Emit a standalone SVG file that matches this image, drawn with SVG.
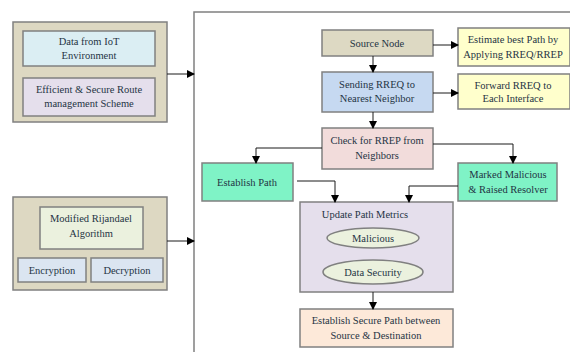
<svg xmlns="http://www.w3.org/2000/svg" width="570" height="352" viewBox="0 0 570 352">
<defs>
<style>
.b{stroke:#808080;stroke-width:1.5}
.t{font-family:"Liberation Serif","Times New Roman",serif;font-size:10.5px;fill:#1f3444;text-anchor:middle}
.c{fill:none;stroke:#1a1a1a;stroke-width:1}
</style>
<marker id="ah" markerWidth="8" markerHeight="8" refX="7" refY="4" orient="auto" markerUnits="userSpaceOnUse">
<path d="M0,0 L8,4 L0,8 Z" fill="#000"/>
</marker>
</defs>
<rect width="570" height="352" fill="#fff"/>
<g id="frame"><rect x="194" y="12" width="400" height="360" fill="none" class="b"/></g>

<g id="left1">
<rect x="13" y="22" width="154" height="100" fill="#ddd8c2" class="b"/>
<rect x="23" y="31" width="132" height="35" fill="#dbeef3" class="b"/>
<text class="t" x="89" y="45">Data from IoT</text>
<text class="t" x="89" y="59">Environment</text>
<rect x="23" y="78" width="132" height="38" fill="#e5dfec" class="b"/>
<text class="t" x="89" y="93">Efficient &amp; Secure Route</text>
<text class="t" x="89" y="107">management Scheme</text>
</g>

<g id="left2">
<rect x="13" y="197" width="154" height="93" fill="#ddd8c2" class="b"/>
<rect x="40" y="207" width="103" height="42" fill="#ebf1de" class="b"/>
<text class="t" x="91" y="222">Modified Rijandael</text>
<text class="t" x="91" y="237">Algorithm</text>
<rect x="18" y="258" width="68" height="24" fill="#dbe5f1" class="b"/>
<text class="t" x="52" y="274">Encryption</text>
<rect x="91" y="258" width="72" height="24" fill="#dbe5f1" class="b"/>
<text class="t" x="127" y="274">Decryption</text>
</g>

<g id="source">
<rect x="322" y="30" width="111" height="26" fill="#ddd9c3" class="b"/>
<text class="t" x="377" y="47">Source Node</text>
</g>
<g id="estimate">
<rect x="458" y="28" width="112" height="38" fill="#ffffcc" class="b"/>
<text class="t" x="513" y="43">Estimate best Path by</text>
<text class="t" x="513" y="58">Applying RREQ/RREP</text>
</g>
<g id="sending">
<rect x="322" y="72" width="111" height="40" fill="#c6d9f1" class="b"/>
<text class="t" x="377" y="88">Sending RREQ to</text>
<text class="t" x="377" y="102">Nearest Neighbor</text>
</g>
<g id="forward">
<rect x="458" y="74" width="112" height="35" fill="#ffffcc" class="b"/>
<text class="t" x="513" y="89">Forward RREQ to</text>
<text class="t" x="513" y="102">Each Interface</text>
</g>
<g id="check">
<rect x="322" y="128" width="111" height="41" fill="#f2dcdb" class="b"/>
<text class="t" x="377" y="144">Check for RREP from</text>
<text class="t" x="377" y="159">Neighbors</text>
</g>
<g id="establish">
<rect x="202" y="163" width="91" height="38" fill="#7ff3c6" class="b"/>
<text class="t" x="247" y="186">Establish Path</text>
</g>
<g id="marked">
<rect x="458" y="163" width="99" height="38" fill="#7ff3c6" class="b"/>
<text class="t" x="508" y="178">Marked Malicious</text>
<text class="t" x="508" y="193">&amp; Raised Resolver</text>
</g>
<g id="update">
<rect x="300" y="202" width="153" height="90" fill="#e5dfec" class="b"/>
<text class="t" x="365" y="218">Update Path Metrics</text>
<ellipse cx="373" cy="238" rx="46" ry="10" fill="#ebf1de" class="b"/>
<text class="t" x="373" y="242">Malicious</text>
<ellipse cx="373" cy="272" rx="50" ry="12" fill="#ebf1de" class="b"/>
<text class="t" x="373" y="276">Data Security</text>
</g>
<g id="final">
<rect x="300" y="309" width="153" height="38" fill="#fde9d9" class="b"/>
<text class="t" x="376" y="324">Establish Secure Path between</text>
<text class="t" x="376" y="339">Source &amp; Destination</text>
</g>

<g id="connectors">
<path class="c" marker-end="url(#ah)" d="M167,74 H194"/>
<path class="c" marker-end="url(#ah)" d="M167,241 H194"/>
<path class="c" marker-end="url(#ah)" d="M433,45 H458"/>
<path class="c" marker-end="url(#ah)" d="M433,93 H458"/>
<path class="c" marker-end="url(#ah)" d="M373,56 V72"/>
<path class="c" marker-end="url(#ah)" d="M373,112 V128"/>
<path class="c" marker-end="url(#ah)" d="M322,148 H256 V163"/>
<path class="c" marker-end="url(#ah)" d="M433,144 H513 V163"/>
<path class="c" marker-end="url(#ah)" d="M297,181 H335 V202"/>
<path class="c" marker-end="url(#ah)" d="M458,186 H409 V202"/>
<path class="c" marker-end="url(#ah)" d="M373,292 V309"/>
</g>
</svg>
